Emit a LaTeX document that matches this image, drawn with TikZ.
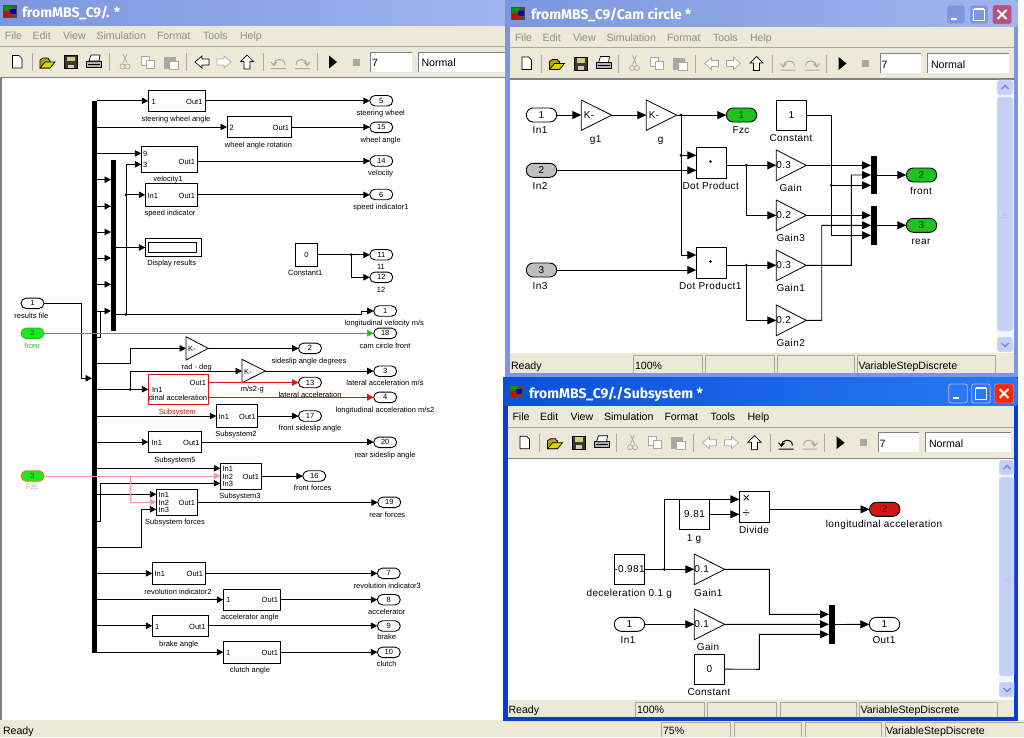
\documentclass[tikz,border=0pt]{standalone}
\usepackage{fontspec}
\setmainfont{Liberation Sans}
\newfontfamily\spf[LetterSpace=4]{Liberation Sans}
\newfontfamily\mnf{Liberation Sans}
\newfontfamily\ttlf{Fira Sans}
\usetikzlibrary{arrows.meta,fit,shapes.misc}
\definecolor{xpbg}{HTML}{ECE9D8}
\definecolor{dis}{HTML}{8E8E86}
\definecolor{iconb}{HTML}{A9A9A2}
\definecolor{inact}{HTML}{7C97E0}
\definecolor{inact2}{HTML}{A0B4EE}
\definecolor{act}{HTML}{0A50DC}
\definecolor{act2}{HTML}{2A78F2}
\definecolor{actb}{HTML}{0A3CD0}
\definecolor{cell}{HTML}{ACA899}
\definecolor{sbt}{HTML}{F2F5FD}
\definecolor{sbb}{HTML}{C3D1F7}
\definecolor{sred}{HTML}{D01818}
\definecolor{sgreen}{HTML}{22C022}
\definecolor{spink}{HTML}{F498A4}
\definecolor{pgreen}{HTML}{1FC11F}
\definecolor{pbright}{HTML}{22E622}
\newcount\lblc
\newcommand\curf{\fontsize{8}{9}\selectfont}
% block drawn from its corners, named
\newcommand\blk[6][bx]{\node[#1,fit={(#3,#4) (#5,#6)}] (#2) {};}
% gain triangle
\newcommand\gn[6]{\node[gx,fit={(#2,#3) (#4,#5)}] (#1) {};\draw[gline] (#1.north west) -- (#1.east) -- (#1.south west) -- cycle;\node[tx,anchor=west] (#1-t) at (#1.west) {#6};}
% port
\newcommand\port[5][ptw]{\node[#1] (#2) at (#3,#4) {#5};}
% texts
\newcommand\tlb[4][black]{\global\advance\lblc by 1 \node[tx,text=#1] (t\the\lblc) at (#2,#3) {#4};}
\newcommand\twe[3]{\global\advance\lblc by 1 \node[tx,anchor=west] (t\the\lblc) at (#1,#2) {#3};}
\newcommand\tea[3]{\global\advance\lblc by 1 \node[tx,anchor=east] (t\the\lblc) at (#1,#2) {#3};}
% connectors
\newcommand\hc[3][sig]{\draw[#1] (#2.east) -- (#2.east -| #3.west);}
\newcommand\bc[3][sig]{\draw[#1] (#2.east |- #3.west) -- (#3.west);}
\newcommand\jn[2]{\fill (#1,#2) circle (1.5pt);}
% toolbar
\newcommand\tbar[6]{%
 \begin{scope}[shift={(#1,#2)},line width=.7pt]
 \foreach \s in {32,109,186,263,317} \draw[iconb] (\s,-9) -- (\s,9);
 \draw[black,fill=white] (12.5,-6.5) -- (19,-6.5) -- (22,-3.5) -- (22,6) -- (12.5,6) -- cycle;
 \draw[black,fill=olive!70!yellow] (40,6) -- (40,-2) -- (43,-4) -- (48,-4) -- (49,-2) -- (50,-2) -- (50,6) -- cycle;
 \draw[black,fill=yellow!70!olive] (40,6) -- (45,0) -- (55,0) -- (50,6) -- cycle;
 \draw[black,fill=black!75!olive] (64.5,-6.5) rectangle (77.5,6.5);
 \fill[olive!40!white] (67,-5.5) rectangle (75,-1);
 \fill[gray!40] (68,2.5) rectangle (74,6);
 \draw[black,fill=gray!60] (86.5,-1) rectangle (101.5,5);
 \draw[black,fill=white] (89,-1) -- (91,-7) -- (100,-7) -- (99,-1) -- cycle;
 \draw[black] (88,2) -- (100,2);
 \draw[iconb] (127,-8) -- (123,1) (123,-8) -- (127,1) (122.5,4.5) circle (2.5pt) (127.5,4.5) circle (2.5pt);
 \draw[iconb,fill=white] (141,-6) rectangle (149,3);
 \draw[iconb,fill=white] (146,-2) rectangle (154,6);
 \draw[iconb,fill=iconb] (164,-5) rectangle (175,6);
 \draw[iconb,fill=white] (169,-1) rectangle (178,7);
 \draw[#3,fill=white] (195,0) -- (202,-6) -- (202,-3) -- (209,-3) -- (209,3) -- (202,3) -- (202,6) -- cycle;
 \draw[iconb,fill=white] (231,0) -- (224,-6) -- (224,-3) -- (217,-3) -- (217,3) -- (224,3) -- (224,6) -- cycle;
 \draw[black,fill=white] (247,-7) -- (253.5,-0.5) -- (250,-0.5) -- (250,7) -- (244,7) -- (244,-0.5) -- (240.5,-0.5) -- cycle;
 \draw[#4,line width=1pt] (274,2) arc (180:370:5.5 and 4.5) (271,0) -- (274,3.5) -- (277,0) (271,6.5) -- (286,6.5);
 \draw[iconb,line width=1pt] (307,2) arc (0:-190:5.5 and 4.5) (304,0) -- (307,3.5) -- (310,0) (295,6.5) -- (310,6.5);
 \fill[black] (329,-6.5) -- (337,0) -- (329,6.5) -- cycle;
 \fill[iconb] (352.5,-3.5) rectangle (359.5,3.5);
 \fill[white] (370.7,-10) rectangle (411.7,9.5);
 \draw[gray] (370.7,9.5) -- (370.7,-10) -- (411.7,-10);
 \node[ui,anchor=base west] (#5a) at (372,4.5) {7};
 \fill[white] (418.3,-10) rectangle (418.3+#6,9.5);
 \draw[gray] (418.3,9.5) -- (418.3,-10) -- (418.3+#6,-10);
 \node[ui,anchor=base west] (#5b) at (421.5,4.5) {Normal};
 \end{scope}}
% menu
\newcommand\mbar[4]{%
 \begin{scope}[shift={(#1,#2)}]
 \node[ui,text=#3,anchor=base west] (#4m1) at (5,4) {File};
 \node[ui,text=#3,anchor=base west] (#4m2) at (32.5,4) {Edit};
 \node[ui,text=#3,anchor=base west] (#4m3) at (63,4) {View};
 \node[ui,text=#3,anchor=base west] (#4m4) at (96.5,4) {Simulation};
 \node[ui,text=#3,anchor=base west] (#4m5) at (157,4) {Format};
 \node[ui,text=#3,anchor=base west] (#4m6) at (203,4) {Tools};
 \node[ui,text=#3,anchor=base west] (#4m7) at (240,4) {Help};
 \end{scope}}
% title icon
\newcommand\ticon[2]{%
 \begin{scope}[shift={(#1,#2)}]
 \fill[gray!60!black] (0,0) rectangle (14,13);
 \fill[green!60!black] (1,1) rectangle (9,6);
 \fill[blue!70!black] (7,4) rectangle (13,9);
 \fill[red!85!black] (4.5,9) circle (3.5pt);
 \end{scope}}
% caption buttons
\newcommand\capb[3]{%
 \begin{scope}[shift={(#1,#2)},line width=.8pt]
 \draw[white!70!blue,fill=#3,rounded corners=2pt] (0,0) rectangle (18.5,19);
 \fill[white] (4,12.5) rectangle (10,15);
 \draw[white!70!blue,fill=#3,rounded corners=2pt] (23,0) rectangle (41.5,19);
 \draw[white,line width=1pt] (27,4) rectangle (37.5,15);
 \draw[white,line width=2pt] (27,3.5) -- (37.5,3.5);
 \end{scope}}
\newcommand\capx[3]{%
 \begin{scope}[shift={(#1,#2)}]
 \draw[white!70!blue,fill=#3,rounded corners=2pt] (0,0) rectangle (19,19);
 \draw[white,line width=2pt] (5,5) -- (14,14) (14,5) -- (5,14);
 \end{scope}}
% scrollbar
\newcommand\sbar[7]{%
 \fill[sbt] (#1,#2) rectangle (#3,#4);
 \draw[white,fill=sbb,rounded corners=1.5pt] (#1,#2) rectangle (#3,#2+15);
 \draw[white,fill=sbb,rounded corners=1.5pt] (#1,#4-15) rectangle (#3,#4);
 \draw[white,fill=sbb,rounded corners=1.5pt] (#1,#2+17) rectangle (#3,#4-21);
 \draw[#7,line width=1.4pt] (#1+4.5,#2+9) -- (#1+8,#2+5.5) -- (#1+11.5,#2+9);
 \draw[#7,line width=1.4pt] (#1+4.5,#4-9) -- (#1+8,#4-5.5) -- (#1+11.5,#4-9);
 \foreach \q in {-2,0,2} \draw[white!75!blue] (#1+5,#5+\q) -- (#1+11,#5+\q);}
\newcommand\stcell[4]{\fill[xpbg] (#1,#3) rectangle (#2,#4);\draw[cell] (#1,#4) -- (#1,#3) -- (#2,#3) -- (#2,#4);}
\begin{document}
\begin{tikzpicture}[x=1pt,y=-1pt,
  ui/.style={inner sep=0pt,outer sep=0pt,font=\mnf\fontsize{10.6}{12}\selectfont,text=black},
  ttl/.style={ui,text=white,font=\ttlf\bfseries\fontsize{14}{15}\selectfont,anchor=west},
  tx/.style={inner sep=0pt,outer sep=0pt,font=\curf,text height=1.45ex,text depth=.3ex},
  bx/.style={draw=black,fill=white,line width=.9pt,inner sep=0pt,outer sep=0pt,minimum size=0pt},
  redbx/.style={draw=sred,fill=white,line width=1pt,inner sep=0pt,outer sep=0pt,minimum size=0pt},
  busb/.style={fill=black,draw=none,inner sep=0pt,outer sep=0pt,minimum size=0pt},
  gx/.style={inner sep=0pt,outer sep=0pt,minimum size=0pt},
  gline/.style={draw=black,line width=.8pt,fill=white}]
\useasboundingbox (0,0) rectangle (1024,737);
\fill[white] (0,0) rectangle (1024,737);
% ===== MAIN WINDOW =====
\shade[left color=inact,right color=inact2] (0,0) rectangle (510,26);
\fill[xpbg] (0,26) rectangle (510,77);
\fill[xpbg] (0,720) rectangle (1024,737);
\fill[gray] (0,77) rectangle (2,720);
\fill[gray] (0,76.5) rectangle (510,78);
\draw[white] (0,46.5) -- (510,46.5);
\draw[cell] (0,46) -- (510,46);
\ticon{3}{5}
\node[ttl] (mtitle) at (22,13) {fromMBS\_C9/. *};
\mbar{0}{35.5}{dis}{mw}
\tbar{0}{62}{black}{iconb}{mw}{90}
\stcell{661.3}{729.7}{722}{737}
\stcell{733.7}{801}{722}{737}
\stcell{805}{881}{722}{737}
\stcell{885}{1030}{722}{737}
\node[ui,anchor=base west] (mready) at (3,734) {Ready};
\node[ui,anchor=base west] (mzoom) at (663,734) {75\%};
\node[ui,anchor=base west] (mstep) at (886,734) {VariableStepDiscrete};
% ---- main diagram ----
\begin{scope}[
  sig/.style={draw=black,line width=.9pt,-{Triangle[length=6.5pt,width=6.5pt]}},
  nsig/.style={draw=black,line width=.9pt},
  ptw/.style={rounded rectangle,draw=black,fill=white,line width=.9pt,minimum width=23pt,minimum height=10.5pt,inner sep=0pt,outer sep=0pt,font=\curf}]
\renewcommand\curf{\mnf\fontsize{7.5}{9}\selectfont}
\blk[busb]{busA}{92}{101}{97}{653}
\blk[busb]{busB}{111}{160}{116}{331}
% blocks
\blk{sw}{148.3}{90.3}{205.7}{111.3}
\blk{wr}{227}{116.3}{291.7}{137.7}
\blk{vel}{141.3}{146.3}{197.3}{172.3}
\blk{spd}{145.3}{183.3}{197.3}{206.3}
\blk{disp}{145.3}{238.3}{201.7}{256.7}
\blk{dispi}{148.3}{242.3}{196.7}{252.7}
\blk{cst}{295.3}{243.3}{317.7}{266.3}
\gn{rad}{186}{336.7}{208.3}{360}{\hspace*{2pt}K-}
\gn{ms}{242}{359.3}{265.3}{382.7}{\hspace*{2pt}K-}
\blk[redbx]{sub}{148.3}{374.3}{208.3}{404.3}
\blk{s2}{216.3}{404.3}{257.7}{427.7}
\blk{s5}{148.3}{431.3}{201.7}{452.7}
\blk{s3}{220.3}{463.3}{261.7}{489}
\blk{sf}{156.3}{489.3}{197.3}{515.7}
\blk{ri}{152.3}{562.3}{205.7}{584.3}
\blk{aa}{223.3}{589.3}{280.7}{610}
\blk{ba}{152.3}{615.3}{208.3}{636.3}
\blk{ca}{223.3}{641.3}{280.7}{663}
% ports
\port{i1}{32.5}{303.3}{1}
\port[ptw,fill=pbright,draw=sgreen,text=green!45!black]{i2}{32.5}{333.3}{2}
\port[ptw,fill=pbright,draw=orange!70!olive,text=green!45!black]{i3}{32.5}{476}{3}
\port{o5}{381.3}{100.7}{5}
\port{o15}{381.3}{127.3}{15}
\port{o14}{381.3}{161}{14}
\port{o6}{381.3}{194.5}{6}
\port{o11}{381.3}{254.7}{11}
\port{o12}{381.3}{277.3}{12}
\port{o1}{385.2}{311}{1}
\port{o18}{385.2}{333.3}{18}
\port{o2}{310}{348.3}{2}
\port{o3}{385.2}{371.2}{3}
\port{o13}{310}{382.5}{13}
\port{o4}{385.2}{397.3}{4}
\port{o17}{310}{416}{17}
\port{o20}{385.2}{442.3}{20}
\port{o16}{314.3}{476}{16}
\port{o19}{389.3}{502.3}{19}
\port{o7}{388.8}{573.3}{7}
\port{o8}{388.8}{599.7}{8}
\port{o9}{388.8}{626}{9}
\port{o10}{388.8}{652.3}{10}
% block texts
\twe{151.5}{101}{1}\tea{202.5}{101}{Out1}
\twe{229.5}{127.3}{2}\tea{289}{127.3}{Out1}
\twe{143}{153.5}{9}\twe{143}{164.5}{3}\tea{195}{161}{Out1}
\twe{147.5}{195}{In1}\tea{195}{195}{Out1}
\tlb{306.5}{254.7}{0}
\twe{152}{389.5}{In1}\tea{206}{382.7}{Out1}\twe{148.8}{397.5}{dinal acceleration}
\twe{218.5}{416.5}{In1}\tea{255.5}{416.5}{Out1}
\twe{151.5}{442.5}{In1}\tea{199.5}{442.5}{Out1}
\twe{222.5}{468.5}{In1}\twe{222.5}{476.2}{In2}\twe{222.5}{483.7}{In3}\tea{259}{476.2}{Out1}
\twe{158.5}{494.5}{In1}\twe{158.5}{502.2}{In2}\twe{158.5}{509.7}{In3}\tea{195}{502.5}{Out1}
\twe{154.5}{573.5}{In1}\tea{203}{573.5}{Out1}
\twe{226}{599.7}{1}\tea{278}{599.7}{Out1}
\twe{155}{626}{1}\tea{205.5}{626}{Out1}
\twe{226}{652.5}{1}\tea{278}{652.5}{Out1}
% labels
\tlb{176}{118}{steering wheel angle}
\tlb{258.5}{144}{wheel angle rotation}
\tlb{168}{178.7}{velocity1}
\tlb{170}{212}{speed indicator}
\tlb{171.7}{262}{Display results}
\tlb{305.3}{272}{Constant1}
\tlb{31.3}{315}{results file}
\tlb[sgreen]{32}{345}{front}
\tlb[spink]{32}{486.7}{Fzc}
\tlb{196.7}{366.3}{rad - deg}
\tlb{252.3}{388.3}{m/s2-g}
\tlb[sred]{177.3}{411}{Subsystem}
\tlb{236}{433.3}{Subsystem2}
\tlb{175}{459}{Subsystem5}
\tlb{240}{495}{Subsystem3}
\tlb{175}{521}{Subsystem forces}
\tlb{178}{591}{revolution indicator2}
\tlb{250}{616}{accelerator angle}
\tlb{178.7}{643.3}{brake angle}
\tlb{250}{669}{clutch angle}
\tlb{380.7}{112}{steering wheel}
\tlb{380.7}{139}{wheel angle}
\tlb{380.7}{172}{velocity}
\tlb{381}{206}{speed indicator1}
\tlb{381}{266}{11}
\tlb{381}{289}{12}
\tlb{384.3}{322.3}{longitudinal velocity m/s}
\tlb{385}{345}{cam circle front}
\tlb{309}{360}{sideslip angle degrees}
\tlb{385}{382}{lateral acceleration m/s}
\tlb{310}{394}{lateral acceleration}
\tlb{385}{409}{longitudinal acceleration m/s2}
\tlb{310}{427}{front sideslip angle}
\tlb{385}{454}{rear sideslip angle}
\tlb{312.7}{487}{front forces}
\tlb{387.3}{514}{rear forces}
\tlb{387.3}{585}{revolution indicator3}
\tlb{386.7}{611}{accelerator}
\tlb{386.7}{636.7}{brake}
\tlb{386.7}{663.7}{clutch}
% connectors
\bc{busA}{sw}
\hc{sw}{o5}
\bc{busA}{wr}
\hc{wr}{o15}
\coordinate (vi1) at (141.3,153.4);
\coordinate (vi2) at (141.3,164.3);
\coordinate (vo) at (197.3,161);
\coordinate (jb) at (126,314.3);
\coordinate (jt) at (126,164.3);
\draw[sig] (busA.east |- vi1) -- (vi1);
\draw[sig] (jb) -- (jt) -- (vi2);
\draw[sig] (vo) -- (vo -| o14.west);
\draw[sig] (spd.west -| jb) -- (spd.west);
\hc{spd}{o6}
\jn{126}{194.8}\jn{126}{314.3}
\foreach \y in {179.7,206.3,232,258,284.3}
  \draw[sig] (busA.east |- 0,\y) -- (busB.west |- 0,\y);
\coordinate (bb1) at (100,311);
\coordinate (bb2) at (100,337.3);
\draw[nsig] (busA.east |- bb2) -- (bb2) -- (bb1);
\draw[sig] (busA.east |- bb1) -- (busB.west |- bb1);
\bc{busB}{disp}
\coordinate (lv) at (361.7,314.3);
\draw[sig] (busB.east |- lv) -- (lv) -- (lv |- o1.west) -- (o1.west);
\hc{cst}{o11}
\coordinate (jc) at (351.3,254.7);
\draw[sig] (jc) -- (jc |- o12.west) -- (o12.west);
\jn{351.3}{254.7}
\coordinate (ib0) at (81.7,303.3);
\coordinate (ib) at (81.7,378.3);
\draw[sig] (i1.east) -- (ib0) -- (ib) -- (ib -| busA.west);
\draw[sig,draw=sgreen] (i2.east) -- (i2.east -| o18.west);
\coordinate (rb) at (130.3,363);
\draw[sig] (busA.east |- rb) -- (rb) -- (rb |- rad.west) -- (rad.west);
\hc{rad}{o2}
\coordinate (sin) at (148.3,389.3);
\draw[sig] (busA.east |- sin) -- (sin);
\coordinate (mj) at (130.3,389.3);
\draw[sig] (mj) -- (mj |- ms.west) -- (ms.west);
\jn{130.3}{389.3}
\hc{ms}{o3}
\coordinate (so1) at (208.3,382.5);
\coordinate (so2) at (208.3,397.3);
\draw[sig,draw=sred] (so1) -- (so1 -| o13.west);
\draw[sig,draw=sred] (so2) -- (so2 -| o4.west);
\bc{busA}{s2}
\hc{s2}{o17}
\bc{busA}{s5}
\hc{s5}{o20}
\coordinate (s3i1) at (220.3,468.3);
\coordinate (s3i2) at (220.3,476);
\coordinate (s3i3) at (220.3,483.3);
\coordinate (sfi1) at (156.3,494.3);
\coordinate (sfi2) at (156.3,502);
\coordinate (sfi3) at (156.3,509.3);
\draw[sig] (busA.east |- s3i1) -- (s3i1);
\draw[sig,draw=spink] (i3.east) -- (s3i2);
\coordinate (p1) at (100,521);
\draw[sig] (busA.east |- p1) -- (p1) -- (p1 |- s3i3) -- (s3i3);
\draw[sig] (busA.east |- sfi1) -- (sfi1);
\coordinate (pk) at (130.3,476);
\draw[sig,draw=spink] (pk) -- (pk |- sfi2) -- (sfi2);
\coordinate (p2) at (141.7,547.3);
\draw[sig] (busA.east |- p2) -- (p2) -- (p2 |- sfi3) -- (sfi3);
\hc{s3}{o16}
\draw[sig] (sf.east) -- (sf.east -| o19.west);
\bc{busA}{ri}
\hc{ri}{o7}
\bc{busA}{aa}
\hc{aa}{o8}
\bc{busA}{ba}
\hc{ba}{o9}
\bc{busA}{ca}
\hc{ca}{o10}
\end{scope}
% ===== CAM CIRCLE WINDOW =====
\fill[inact] (505,0) rectangle (1018,377);
\shade[left color=inact,right color=inact2,rounded corners=3pt] (505,0) rectangle (1018,27);
\fill[xpbg] (510,27) rectangle (1014,79);
\draw[cell] (510,47.5) -- (1014,47.5);
\fill[gray] (510,78) rectangle (1014,79.5);
\fill[white] (510,79.5) rectangle (1014,353);
\fill[xpbg] (510,353) rectangle (1014,373);
\ticon{511}{7}
\node[ttl] (ctitle) at (531,14.5) {fromMBS\_C9/Cam circle *};
\capb{946.7}{5}{inact}
\capx{992.5}{5}{red!45!inact}
\mbar{510}{37}{dis}{cw}
\tbar{509.5}{63.5}{iconb}{iconb}{cw}{81.5}
\sbar{997}{80}{1013}{352}{215}{0}{actb!60!white}
\stcell{633.3}{701.7}{355}{373}
\stcell{705}{774}{355}{373}
\stcell{777.3}{854}{355}{373}
\stcell{857.3}{995}{355}{373}
\node[ui,anchor=base west] (cready) at (511,369) {Ready};
\node[ui,anchor=base west] (czoom) at (635,369) {100\%};
\node[ui,anchor=base west] (cstep) at (858.5,369) {VariableStepDiscrete};
% ---- cam diagram ----
\begin{scope}[
  sig/.style={draw=black,line width=.9pt,-{Triangle[length=9pt,width=8pt]}},
  nsig/.style={draw=black,line width=.9pt},
  ptw/.style={rounded rectangle,draw=black,fill=white,line width=.9pt,minimum width=30.4pt,minimum height=14pt,inner sep=0pt,outer sep=0pt,font=\curf},
  ptg/.style={ptw,fill=black!25},
  pgr/.style={ptw,fill=pgreen,text=green!25!black}]
\renewcommand\curf{\spf\fontsize{10}{11}\selectfont}
\port{ci1}{541.5}{115}{1}
\port[ptg]{ci2}{541.5}{170.3}{2}
\port[ptg]{ci3}{541.5}{270}{3}
\gn{g1}{581.3}{100}{611.7}{130.3}{\hspace*{2.5pt}K-}
\gn{g0}{646.3}{100}{676.7}{130.3}{\hspace*{2.5pt}K-}
\port[pgr]{cfz}{741.5}{115}{1}
\blk{dp}{696.3}{147.3}{726.7}{178.3}
\blk{dq}{696.3}{247.3}{726.7}{278.3}
\blk{cc}{776.3}{100.3}{806.3}{130.3}
\gn{ga}{776.3}{150}{806.3}{180.7}{0.3}
\gn{gb}{776.3}{200}{806.3}{230.7}{0.2}
\gn{gc}{776.3}{250}{806.3}{280.7}{0.3}
\gn{gd}{776.3}{305}{806.3}{335.7}{0.2}
\blk[busb]{m1}{871}{156}{877.3}{194.3}
\blk[busb]{m2}{871}{206}{877.3}{245}
\port[pgr]{cfr}{921.5}{175}{2}
\port[pgr]{crr}{921.5}{225.3}{3}
\tlb{791.3}{115}{1}
\fill (710.5,161.5) circle (1.4pt);
\fill (710.5,261.5) circle (1.4pt);
\tlb{540}{130.7}{In1}\tlb{540}{186}{In2}\tlb{540}{286}{In3}
\tlb{595.7}{139.3}{g1}\tlb{660.7}{139.3}{g}\tlb{741}{130.7}{Fzc}
\tlb{791}{138.7}{Constant}
\tlb{710.7}{186.7}{Dot Product}\tlb{710.3}{286.7}{Dot Product1}
\tlb{790.7}{188.7}{Gain}\tlb{790.7}{238.7}{Gain3}\tlb{790.7}{288.7}{Gain1}\tlb{790.7}{343.7}{Gain2}
\tlb{921}{191}{front}\tlb{921}{241}{rear}
\hc{ci1}{g1}
\hc{g1}{g0}
\hc{g0}{cfz}
\coordinate (c1) at (681,115);
\coordinate (dpi1) at (696.3,155.3);
\coordinate (dpi2) at (696.3,170.3);
\coordinate (dqi1) at (696.3,255);
\coordinate (dqi2) at (696.3,270);
\draw[sig] (c1) -- (c1 |- dqi1) -- (dqi1);
\draw[sig] (c1 |- dpi1) -- (dpi1);
\jn{681}{115}\jn{681}{155.3}
\draw[sig] (ci2.east) -- (dpi2);
\draw[sig] (ci3.east) -- (dqi2);
\coordinate (dpo) at (726.7,165.3);
\coordinate (dqo) at (726.7,265.3);
\draw[sig] (dpo) -- (dpo -| ga.west);
\draw[sig] (dqo) -- (dqo -| gc.west);
\coordinate (c2) at (746.3,165.3);
\coordinate (c3) at (746.3,265.3);
\draw[sig] (c2) -- (c2 |- gb.west) -- (gb.west);
\draw[sig] (c3) -- (c3 |- gd.west) -- (gd.west);
\jn{746.3}{165.3}\jn{746.3}{265.3}
\coordinate (m1a) at (871,165.3);
\coordinate (m1b) at (871,175);
\coordinate (m1c) at (871,185.3);
\coordinate (m2a) at (871,215.3);
\coordinate (m2b) at (871,225.3);
\coordinate (m2c) at (871,235.3);
\draw[sig] (ga.east) -- (ga.east -| m1a);
\draw[sig] (gb.east) -- (gb.east -| m2a);
\coordinate (c4) at (851.3,265.3);
\draw[sig] (gc.east) -- (c4) -- (c4 |- m1b) -- (m1b);
\coordinate (c5) at (821.7,320.3);
\draw[sig] (gd.east) -- (c5) -- (c5 |- m2b) -- (m2b);
\coordinate (c6) at (831.3,115.3);
\draw[sig] (cc.east) -- (c6) -- (c6 |- m2c) -- (m2c);
\draw[sig] (c6 |- m1c) -- (m1c);
\jn{831.3}{185.3}
\draw[sig] (m1.east |- cfr.west) -- (cfr.west);
\draw[sig] (m2.east |- crr.west) -- (crr.west);
\end{scope}
% ===== SUBSYSTEM WINDOW =====
\fill[actb] (503,377) rectangle (1018,721);
\shade[left color=act,right color=act2,rounded corners=3pt] (503,377) rectangle (1018,406);
\fill[xpbg] (508,406) rectangle (1014,458);
\draw[cell] (508,427) -- (1014,427);
\fill[gray] (508,457.5) rectangle (1014,459);
\fill[white] (508,459) rectangle (1014,700);
\fill[xpbg] (508,700) rectangle (1014,716.5);
\ticon{509}{385}
\node[ttl] (stitle) at (529,394.5) {fromMBS\_C9/./Subsystem *};
\capb{948.7}{384}{act2}
\capx{994.5}{384}{red!70!orange}
\mbar{507.5}{416}{black}{sw}
\tbar{507.5}{442.7}{iconb}{black}{sw}{85.5}
\sbar{999}{460}{1014}{697}{580}{0}{actb!60!white}
\stcell{635.3}{704}{702}{716.5}
\stcell{707}{775.7}{702}{716.5}
\stcell{779.7}{855.7}{702}{716.5}
\stcell{859}{997}{702}{716.5}
\node[ui,anchor=base west] (sready) at (508.5,713) {Ready};
\node[ui,anchor=base west] (szoom) at (637,713) {100\%};
\node[ui,anchor=base west] (sstep) at (860.5,713) {VariableStepDiscrete};
\begin{scope}[
  sig/.style={draw=black,line width=.9pt,-{Triangle[length=9pt,width=8pt]}},
  nsig/.style={draw=black,line width=.9pt},
  ptw/.style={rounded rectangle,draw=black,fill=white,line width=.9pt,minimum width=30.4pt,minimum height=14pt,inner sep=0pt,outer sep=0pt,font=\curf},
  prd/.style={ptw,fill=sred,text=red!40!black}]
\renewcommand\curf{\spf\fontsize{10}{11}\selectfont}
\blk{dv}{739.3}{491.3}{769.7}{522.3}
\blk{og}{679.3}{499.3}{709.7}{529.3}
\blk{dc}{614.3}{554.3}{644.7}{584.3}
\gn{g2}{694.3}{554}{724.7}{584.7}{0.1}
\gn{g3}{694.3}{609}{724.7}{639.7}{0.1}
\blk{k0}{694.3}{654}{724.7}{684.3}
\blk[busb]{mx}{829}{605}{835}{644}
\port{si}{629.5}{624.3}{1}
\port{so}{884.5}{624.3}{1}
\port[prd]{sl}{884.7}{509.3}{2}
\tlb{746.3}{499.3}{\fontsize{13}{13}\selectfont ×}
\tlb{746.3}{514.3}{\fontsize{13}{13}\selectfont ÷}
\tlb{694.5}{514.3}{9.81}
\tlb{629.5}{569.3}{-0.981}
\tlb{709.5}{669.3}{0}
\tlb{754}{530.7}{Divide}
\tlb{694}{538.3}{1 g}
\tlb{629.3}{593}{deceleration 0.1 g}
\tlb{708.3}{593}{Gain1}
\tlb{628}{640}{In1}
\tlb{708}{647.7}{Gain}
\tlb{709}{692.7}{Constant}
\tlb{884}{640}{Out1}
\tlb{884}{524.7}{longitudinal acceleration}
\coordinate (dv1) at (739.3,499.3);
\coordinate (dv2) at (739.3,514.3);
\coordinate (sj) at (664.3,569.3);
\hc{dc}{g2}
\draw[sig] (sj) -- (sj |- dv1) -- (dv1);
\jn{664.3}{569.3}
\draw[sig] (og.east) -- (dv2);
\coordinate (dvo) at (769.7,509.3);
\draw[sig] (dvo) -- (sl.west);
\coordinate (ma) at (829,614.3);
\coordinate (mb) at (829,624.3);
\coordinate (mc) at (829,634.3);
\coordinate (s1) at (769.3,569.3);
\draw[sig] (g2.east) -- (s1) -- (s1 |- ma) -- (ma);
\hc{si}{g3}
\draw[sig] (g3.east) -- (mb);
\coordinate (s2b) at (759.3,669.3);
\draw[sig] (k0.east) -- (s2b) -- (s2b |- mc) -- (mc);
\draw[sig] (mx.east) -- (so.west);
\end{scope}
\end{tikzpicture}
\end{document}
